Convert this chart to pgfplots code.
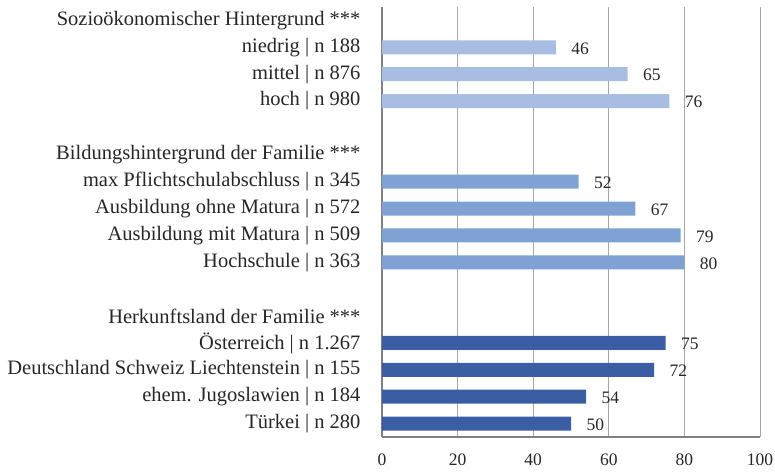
\documentclass[border=0pt]{standalone}
\usepackage{pgfplots}
\pgfplotsset{compat=1.18}
\usepackage{fontspec}
\setmainfont{Liberation Serif}
\definecolor{cLight}{HTML}{A7BDE2}
\definecolor{cMed}{HTML}{7FA1D4}
\definecolor{cDark}{HTML}{3A5DA4}
\definecolor{cAxis}{HTML}{808080}
\definecolor{cGrid}{HTML}{A6A6A6}
\begin{document}
\begin{tikzpicture}[x=1pt,y=1pt]
\useasboundingbox (-382,-35) rectangle (393,437);
\begin{axis}[
  at={(0,0)}, anchor=south west,
  scale only axis, width=378pt, height=430pt,
  xmin=0, xmax=100, ymin=-0.5, ymax=15.5,
  y dir=reverse,
  xtick={0,20,40,60,80,100},
  ytick={0,...,15},
  yticklabels={
    {Sozioökonomischer Hintergrund ***},
    {niedrig | n 188},
    {mittel | n 876},
    {hoch | n 980},
    {},
    {Bildungshintergrund der Familie ***},
    {max Pflichtschulabschluss | n 345},
    {Ausbildung ohne Matura | n 572},
    {Ausbildung mit Matura | n 509},
    {Hochschule | n 363},
    {},
    {Herkunftsland der Familie ***},
    {Österreich | n 1.267},
    {Deutschland Schweiz Liechtenstein | n 155},
    {ehem. Jugoslawien | n 184},
    {Türkei | n 280}},
  major tick length=0pt,
  axis x line*=bottom, axis y line*=left,
  axis line style={cAxis, line width=1.2pt},
  xmajorgrids, grid style={cGrid, line width=0.9pt},
  /pgf/number format/assume math mode=true,
  tick label style={text=black!85},
  yticklabel style={font=\fontsize{20.5}{22}\selectfont, anchor=east, xshift=-18pt},
  xticklabel style={font=\fontsize{17.5}{19}\selectfont, yshift=-13pt},
  xbar, bar width=14pt, bar shift=0pt,
  nodes near coords,
  every node near coord/.append style={font=\fontsize{17.5}{19}\selectfont, text=black!85, anchor=west, xshift=12pt, yshift=-1pt},
  clip=false,
]
\addplot[fill=cLight, draw=none] coordinates {(46,1) (65,2) (76,3)};
\addplot[fill=cMed, draw=none] coordinates {(52,6) (67,7) (79,8) (80,9)};
\addplot[fill=cDark, draw=none] coordinates {(75,12) (72,13) (54,14) (50,15)};
\end{axis}
\end{tikzpicture}
\end{document}
